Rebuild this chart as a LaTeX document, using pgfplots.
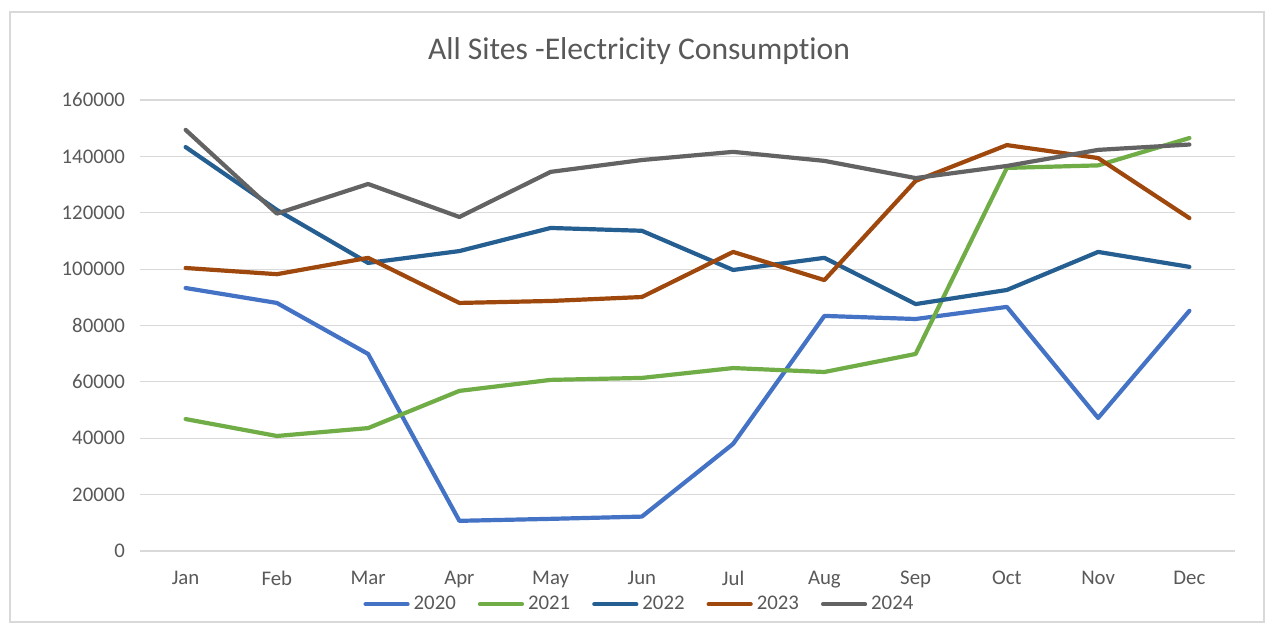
\documentclass[border=0pt]{standalone}
\usepackage{fontspec}
\setmainfont{Carlito}[Ligatures={NoCommon}]
\usepackage{pgfplots}
\pgfplotsset{compat=1.18}
\definecolor{cA}{HTML}{4472C4}
\definecolor{cB}{HTML}{70AD47}
\definecolor{cC}{HTML}{255E91}
\definecolor{cD}{HTML}{9E480E}
\definecolor{cE}{HTML}{636363}
\definecolor{txt}{HTML}{595959}
\definecolor{grd}{HTML}{D9D9D9}

\begin{document}
\begin{tikzpicture}[x=1pt,y=1pt]
% page extent and chart frame (1px = 0.5pt)
\path[fill=white] (0,0) rectangle (635,312.5);
\draw[grd, line width=0.6pt] (5,1.5) rectangle (632,306.5);
\node[txt, font=\fontsize{15.8}{18}\selectfont] at (319.5,287) {All Sites -Electricity Consumption};
\begin{axis}[
  at={(70pt,37pt)}, anchor=south west,
  scale only axis, width=547.5pt, height=225.5pt,
  xmin=-0.5, xmax=11.5, ymin=0, ymax=160000,
  xtick={0,...,11},
  xticklabels={Jan,Feb,Mar,Apr,May,Jun,Jul,Aug,Sep,Oct,Nov,Dec},
  ytick={0,20000,...,160000},
  scaled y ticks=false,
  /pgf/number format/.cd, fixed, 1000 sep={}, assume math mode=true,
  /pgfplots/.cd,
  axis line style={draw=none},
  major tick length=0pt,
  ymajorgrids, grid style={grd, line width=0.6pt},
  tick label style={txt, font=\fontsize{10.4}{12}\selectfont},
  xticklabel style={yshift=-6.5pt},
  yticklabel style={xshift=-4pt},
  every axis plot/.append style={line width=2.1pt, line join=round, line cap=round, mark=none},
  legend style={at={(0.457,-0.118)}, anchor=center, draw=none, fill=none,
    legend columns=5, font=\fontsize{10.4}{12}\selectfont, text=txt,
    /tikz/every even column/.append style={column sep=9pt},
    inner sep=0pt},
  legend image code/.code={\draw[#1, line cap=round] (0pt,0pt) -- (21pt,0pt);},
]
\addplot[cA] coordinates {(0,93300) (1,88000) (2,69900) (3,10700) (4,11400) (5,12200) (6,38000) (7,83400) (8,82300) (9,86600) (10,47200) (11,85200)};
\addlegendentry{2020}
\addplot[cB] coordinates {(0,46800) (1,40800) (2,43600) (3,56800) (4,60700) (5,61400) (6,64900) (7,63500) (8,69900) (9,135900) (10,136800) (11,146500)};
\addlegendentry{2021}
\addplot[cC] coordinates {(0,143300) (1,121000) (2,102200) (3,106400) (4,114600) (5,113600) (6,99700) (7,104000) (8,87600) (9,92600) (10,106100) (11,100800)};
\addlegendentry{2022}
\addplot[cD] coordinates {(0,100400) (1,98200) (2,104000) (3,88000) (4,88700) (5,90100) (6,106100) (7,96100) (8,131300) (9,144000) (10,139400) (11,118100)};
\addlegendentry{2023}
\addplot[cE] coordinates {(0,149400) (1,119700) (2,130200) (3,118500) (4,134500) (5,138700) (6,141600) (7,138400) (8,132300) (9,136600) (10,142300) (11,144200)};
\addlegendentry{2024}
\end{axis}
\end{tikzpicture}
\end{document}
